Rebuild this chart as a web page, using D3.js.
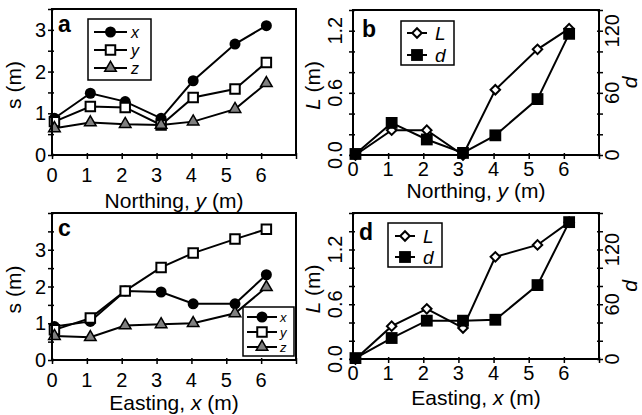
<!DOCTYPE html>
<html>
<head>
<meta charset="utf-8">
<script src="https://cdn.jsdelivr.net/npm/d3@7"></script>
<style>
  body { margin: 0; background: #fff; }
  svg text { font-family: "Liberation Sans", Arial, sans-serif; fill: #000; }
</style>
</head>
<body>
<svg id="chart" width="642" height="415"></svg>
<script>
// positions along the transect (m)
const xPos = [0.07, 1.1, 2.1, 3.13, 4.05, 5.25, 6.15];

// spread s (m) along northing
const northX = [0.88, 1.48, 1.28, 0.88, 1.78, 2.66, 3.1];
const northY = [0.8, 1.16, 1.14, 0.72, 1.38, 1.58, 2.22];
const northZ = [0.64, 0.78, 0.74, 0.72, 0.8, 1.1, 1.72];
// L (m) and d along northing
const northL = [0, 0.24, 0.24, 0, 0.63, 1.02, 1.22];
const northD = [1, 31, 15, 2, 19, 54, 117];

// spread s (m) along easting
const eastX = [0.91, 1.05, 1.88, 1.85, 1.53, 1.53, 2.32];
const eastY = [0.82, 1.14, 1.88, 2.52, 2.91, 3.29, 3.56];
const eastZ = [0.65, 0.62, 0.94, 0.97, 1.0, 1.27, 1.98];
// L (m) and d along easting
const eastL = [0, 0.36, 0.55, 0.34, 1.12, 1.25, 1.5];
const eastD = [1, 23, 42, 42, 43, 81, 150];

const xTicks = [0, 1, 2, 3, 4, 5, 6, 7];
const xLabels = [0, 1, 2, 3, 4, 5, 6];

const svg = d3.select("#chart");

const markers = {
  circle: { type: d3.symbolCircle, size: 95, fill: "#000", stroke: "none", sw: 0, rot: 0 },
  openSquare: { type: d3.symbolSquare, size: 90, fill: "#fff", stroke: "#000", sw: 2, rot: 0 },
  triangle: { type: d3.symbolTriangle, size: 58, fill: "#808080", stroke: "#000", sw: 1.5, rot: 0 },
  diamond: { type: d3.symbolSquare, size: 45, fill: "#fff", stroke: "#000", sw: 2, rot: 45 },
  fillSquare: { type: d3.symbolSquare, size: 140, fill: "#000", stroke: "none", sw: 0, rot: 0 }
};

function drawMarker(g, kind, cx, cy) {
  const m = markers[kind];
  g.append("path")
    .attr("d", d3.symbol().type(m.type).size(m.size)())
    .attr("transform", `translate(${cx},${cy}) rotate(${m.rot})`)
    .attr("fill", m.fill)
    .attr("stroke", m.stroke)
    .attr("stroke-width", m.sw);
}

function addRich(t, parts) {
  parts.forEach(p => {
    t.append("tspan").text(p[0]).style("font-style", p[1] ? "italic" : "normal");
  });
}

function drawPanel(p) {
  const g = svg.append("g");
  const x = d3.scaleLinear().domain([0, 7]).range([p.box.x0, p.box.x1]);
  const y = d3.scaleLinear().domain(p.yDomain).range([p.box.y1, p.box.y0]);

  // x ticks
  const gx = g.append("g")
    .attr("transform", `translate(0,${p.box.y1})`)
    .call(d3.axisBottom(x).tickValues(xTicks).tickFormat("").tickSizeInner(4).tickSizeOuter(0));
  gx.select(".domain").remove();
  gx.selectAll(".tick line").attr("y1", -2).attr("stroke-width", 1.5);

  g.selectAll(".xl").data(xLabels).enter().append("text")
    .attr("x", d => x(d))
    .attr("y", p.box.y1 + p.xLabelOff)
    .attr("text-anchor", "middle")
    .style("font-size", "20px")
    .text(d => d);

  const xt = g.append("text")
    .attr("x", (p.box.x0 + p.box.x1) / 2)
    .attr("y", p.box.y1 + p.xTitleOff)
    .attr("text-anchor", "middle")
    .style("font-size", "21px");
  addRich(xt, p.xTitle);

  // left y ticks
  const gy = g.append("g")
    .attr("transform", `translate(${p.box.x0},0)`)
    .call(d3.axisLeft(y).tickValues(p.yTicks).tickFormat("").tickSizeInner(4).tickSizeOuter(0));
  gy.select(".domain").remove();
  gy.selectAll(".tick line").attr("x1", 2).attr("stroke-width", 1.5);

  if (p.rotLabels) {
    g.selectAll(".yl").data(p.yLabels).enter().append("text")
      .attr("transform", d => `translate(${p.box.x0 - 11},${y(d)}) rotate(-90)`)
      .attr("text-anchor", "middle")
      .style("font-size", "20px")
      .text(d => d.toFixed(1));
  } else {
    g.selectAll(".yl").data(p.yLabels).enter().append("text")
      .attr("x", p.box.x0 - 6)
      .attr("y", d => y(d))
      .attr("dy", "0.36em")
      .attr("text-anchor", "end")
      .style("font-size", "20px")
      .text(d => d);
  }

  const yt = g.append("text")
    .attr("transform", `translate(${p.yTitleX},${(p.box.y0 + p.box.y1) / 2 + 3}) rotate(-90)`)
    .attr("text-anchor", "middle")
    .style("font-size", "21px");
  addRich(yt, p.yTitle);

  // right axis (d)
  let y2 = null;
  if (p.y2Domain) {
    y2 = d3.scaleLinear().domain(p.y2Domain).range([p.box.y1, p.box.y0]);
    const gr = g.append("g")
      .attr("transform", `translate(${p.box.x1},0)`)
      .call(d3.axisRight(y2).tickValues(p.y2Ticks).tickFormat("").tickSizeInner(4).tickSizeOuter(0));
    gr.select(".domain").remove();
    gr.selectAll(".tick line").attr("x1", -2).attr("stroke-width", 1.5);

    g.selectAll(".y2l").data(p.y2Labels).enter().append("text")
      .attr("transform", d => `translate(${p.box.x1 + 20},${y2(d)}) rotate(-90)`)
      .attr("text-anchor", "middle")
      .style("font-size", "20px")
      .text(d => d);

    g.append("text")
      .attr("transform", `translate(${p.box.x1 + 38},${(p.box.y0 + p.box.y1) / 2}) rotate(-90)`)
      .attr("text-anchor", "middle")
      .style("font-size", "21px")
      .style("font-style", "italic")
      .text("d");
  }

  // series
  p.series.forEach(s => {
    const ys = s.right ? y2 : y;
    const pts = xPos.map((v, i) => [x(v), ys(s.values[i])]);
    g.append("path")
      .attr("d", d3.line()(pts))
      .attr("fill", "none")
      .attr("stroke", "#000")
      .attr("stroke-width", 2);
    pts.forEach(pt => drawMarker(g, s.marker, pt[0], pt[1]));
  });

  // frame
  g.append("rect")
    .attr("x", p.box.x0).attr("y", p.box.y0)
    .attr("width", p.box.x1 - p.box.x0).attr("height", p.box.y1 - p.box.y0)
    .attr("fill", "none").attr("stroke", "#000").attr("stroke-width", 2);

  // panel letter
  g.append("text")
    .attr("x", p.letterPos[0]).attr("y", p.letterPos[1])
    .style("font-size", "23px").style("font-weight", "bold")
    .text(p.letter);

  // legend
  const L = p.legend;
  g.append("rect")
    .attr("x", L.x).attr("y", L.y).attr("width", L.w).attr("height", L.h)
    .attr("fill", "#fff").attr("stroke", "#000").attr("stroke-width", 1.5);
  p.series.forEach((s, i) => {
    const ry = L.rows[i];
    g.append("line")
      .attr("x1", L.l0).attr("x2", L.l1).attr("y1", ry).attr("y2", ry)
      .attr("stroke", "#000").attr("stroke-width", 2);
    drawMarker(g, s.marker, (L.l0 + L.l1) / 2, ry);
    g.append("text")
      .attr("x", L.tx).attr("y", ry).attr("dy", "0.36em")
      .style("font-size", L.fs + "px").style("font-style", "italic")
      .text(s.name);
  });
}

const halfTicks = d3.range(0, 3.51, 0.5);
const halfTicks4 = d3.range(0, 4.01, 0.5);

drawPanel({
  box: { x0: 52, x1: 296, y0: 9, y1: 155 },
  yDomain: [0, 3.5], yTicks: halfTicks, yLabels: [0, 1, 2, 3],
  yTitle: [["s (m)", false]], yTitleX: 21,
  xTitle: [["Northing, ", false], ["y", true], [" (m)", false]],
  xLabelOff: 27, xTitleOff: 53,
  letter: "a", letterPos: [58, 32],
  series: [
    { name: "x", values: northX, marker: "circle" },
    { name: "y", values: northY, marker: "openSquare" },
    { name: "z", values: northZ, marker: "triangle" }
  ],
  legend: { x: 88, y: 19, w: 63, h: 61, rows: [32, 50, 68], l0: 94, l1: 127, tx: 131, fs: 16 }
});

drawPanel({
  box: { x0: 353, x1: 599, y0: 10, y1: 155 },
  yDomain: [0, 1.4], yTicks: d3.range(0, 1.41, 0.2), yLabels: [0, 0.6, 1.2],
  rotLabels: true,
  yTitle: [["L", true], [" (m)", false]], yTitleX: 320,
  y2Domain: [0, 140], y2Ticks: d3.range(0, 141, 20), y2Labels: [0, 60, 120],
  xTitle: [["Northing, ", false], ["y", true], [" (m)", false]],
  xLabelOff: 21, xTitleOff: 43,
  letter: "b", letterPos: [362, 37],
  series: [
    { name: "L", values: northL, marker: "diamond" },
    { name: "d", values: northD, marker: "fillSquare", right: true }
  ],
  legend: { x: 401, y: 21, w: 53, h: 44, rows: [33, 55], l0: 407, l1: 427, tx: 435, fs: 19 }
});

drawPanel({
  box: { x0: 52, x1: 296, y0: 213, y1: 360 },
  yDomain: [0, 4], yTicks: halfTicks4, yLabels: [0, 1, 2, 3],
  yTitle: [["s (m)", false]], yTitleX: 21,
  xTitle: [["Easting, ", false], ["x", true], [" (m)", false]],
  xLabelOff: 27, xTitleOff: 50,
  letter: "c", letterPos: [58, 236],
  series: [
    { name: "x", values: eastX, marker: "circle" },
    { name: "y", values: eastY, marker: "openSquare" },
    { name: "z", values: eastZ, marker: "triangle" }
  ],
  legend: { x: 243, y: 307, w: 51, h: 49, rows: [317, 332, 347], l0: 247, l1: 277, tx: 280, fs: 13 }
});

drawPanel({
  box: { x0: 353, x1: 599, y0: 213, y1: 359 },
  yDomain: [0, 1.6], yTicks: d3.range(0, 1.61, 0.2), yLabels: [0, 0.6, 1.2],
  rotLabels: true,
  yTitle: [["L", true], [" (m)", false]], yTitleX: 320,
  y2Domain: [0, 160], y2Ticks: d3.range(0, 161, 20), y2Labels: [0, 60, 120],
  xTitle: [["Easting, ", false], ["x", true], [" (m)", false]],
  xLabelOff: 21, xTitleOff: 46,
  letter: "d", letterPos: [359, 240],
  series: [
    { name: "L", values: eastL, marker: "diamond" },
    { name: "d", values: eastD, marker: "fillSquare", right: true }
  ],
  legend: { x: 388, y: 223, w: 54, h: 44, rows: [236, 257], l0: 395, l1: 415, tx: 423, fs: 19 }
});
</script>
</body>
</html>
